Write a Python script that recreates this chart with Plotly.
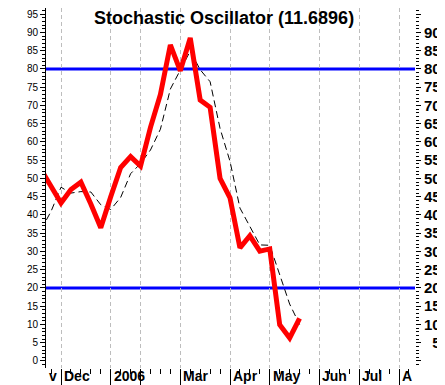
import plotly.graph_objects as go

# ---- data (weekly bars, index 0 = first week of Dec 2005) ----
week_index = list(range(-2, 25))
k_values = [52.4, 47.7, 43.3, 47.0, 49.0, 43.0, 36.5, 45.0, 53.0, 56.0, 53.4,
            64.0, 73.0, 86.6, 79.5, 88.5, 71.5, 69.5, 50.0, 44.7, 31.0, 34.3,
            30.1, 30.7, 9.9, 6.3, 11.6896]
d_values = [36.0, 41.0, 47.6, 46.0, 46.4, 46.3, 42.8, 41.5, 44.8, 51.3, 54.1,
            57.8, 63.5, 74.5, 79.7, 84.9, 79.8, 76.5, 63.7, 54.7, 41.9, 36.7,
            31.8, 31.7, 23.6, 15.6, 10.0]
month_start_weeks = [0, 5, 8, 12, 17, 21, 26, 30, 34]
month_labels = ["Dec", "2006", "", "Mar", "Apr", "May", "Jun", "Jul", "A"]
prev_month_label = "v"
band_levels = [20, 80]
title_text = "Stochastic Oscillator (11.6896)"
y_ticks = list(range(0, 100, 5))

right_tick_text = []
for v in y_ticks:
    if v == 0 or v == 95:
        right_tick_text.append("")
    elif v < 10:
        right_tick_text.append('<b><span style="color:rgba(0,0,0,0)">0</span>' + str(v) + '</b>')
    else:
        right_tick_text.append("<b>" + str(v) + "</b>")

FONT = "Liberation Sans, Arial, sans-serif"
Y_RANGE = [-1.92, 96.7]
X_RANGE = [-1.51, 35.61]

fig = go.Figure()
fig.add_trace(go.Scatter(x=week_index, y=d_values, mode="lines",
                         line=dict(color="black", width=1, dash="7px,4px"),
                         hoverinfo="skip", showlegend=False))
fig.add_trace(go.Scatter(x=week_index, y=k_values, mode="lines",
                         line=dict(color="#ff0000", width=5),
                         showlegend=False))
# invisible copy on the right-hand axis so that axis is rendered
fig.add_trace(go.Scatter(x=week_index, y=k_values, mode="lines", yaxis="y2",
                         line=dict(color="rgba(0,0,0,0)", width=0),
                         hoverinfo="skip", showlegend=False))

for lv in band_levels:
    fig.add_shape(type="line", xref="paper", x0=0, x1=1, yref="y", y0=lv, y1=lv,
                  line=dict(color="#0000ff", width=3), layer="between")

annotations = [dict(text="<b>" + title_text + "</b>", xref="paper", yref="paper",
                    x=0.5, y=1, xanchor="center", yanchor="top", yshift=2, xshift=-7,
                    showarrow=False, font=dict(family=FONT, size=18, color="black"))]
for pos, lab in zip(month_start_weeks, month_labels):
    if lab:
        annotations.append(dict(text="<b>" + lab + "</b>", x=pos, xref="x", y=0, yref="paper",
                                xanchor="left", yanchor="top", xshift=1, yshift=2,
                                showarrow=False, font=dict(family=FONT, size=14, color="black")))
annotations.append(dict(text="<b>" + prev_month_label + "</b>", x=month_start_weeks[0], xref="x",
                        y=0, yref="paper", xanchor="right", yanchor="top", xshift=-2, yshift=2,
                        showarrow=False, font=dict(family=FONT, size=14, color="black")))

fig.update_layout(
    width=445, height=385, autosize=False,
    margin=dict(l=38, r=38, t=0, b=25, pad=0),
    paper_bgcolor="white", plot_bgcolor="white",
    showlegend=False,
    annotations=annotations,
    xaxis=dict(range=X_RANGE, tickmode="array", tickvals=month_start_weeks,
               showticklabels=False, ticks="outside", ticklen=25, tickcolor="black", tickwidth=1,
               showgrid=True, gridcolor="#bdbdbd", griddash="4px,3px", gridwidth=1,
               zeroline=False, showline=False,
               minor=dict(tickmode="linear", tick0=0, dtick=1, ticks="outside", ticklen=5,
                          tickcolor="black", tickwidth=1, showgrid=False)),
    yaxis=dict(range=Y_RANGE, tickmode="array", tickvals=y_ticks,
               ticktext=[str(v) for v in y_ticks],
               ticks="outside", ticklen=5, tickcolor="black", tickwidth=1,
               tickfont=dict(family=FONT, size=10, color="black"),
               showline=True, linecolor="black", linewidth=1,
               showgrid=False, zeroline=False,
               minor=dict(tickmode="linear", tick0=0, dtick=1, ticks="outside", ticklen=3,
                          tickcolor="black", tickwidth=1, showgrid=False)),
    yaxis2=dict(range=Y_RANGE, overlaying="y", side="right", anchor="x",
                tickmode="array", tickvals=y_ticks, ticktext=right_tick_text,
                ticks="outside", ticklen=5, tickcolor="black", tickwidth=1,
                ticklabelstandoff=0,
                tickfont=dict(family=FONT, size=15, color="black"),
                showline=False, showgrid=False, zeroline=False,
                minor=dict(tickmode="linear", tick0=0, dtick=1, ticks="outside", ticklen=3,
                           tickcolor="black", tickwidth=1, showgrid=False)),
)

fig.write_html("out.html")
